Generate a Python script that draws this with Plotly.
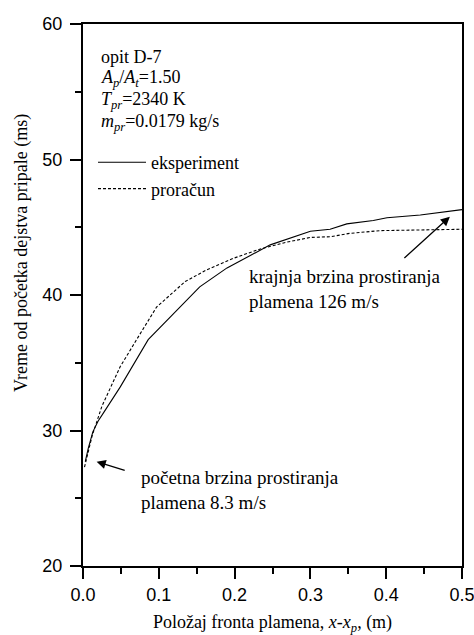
import plotly.graph_objects as go

# ---- data ----
x_eksperiment = [0.003, 0.007, 0.013, 0.020, 0.027, 0.049, 0.086, 0.154, 0.190, 0.247, 0.300, 0.326, 0.348, 0.383, 0.401, 0.445, 0.500]
y_eksperiment = [27.7, 28.7, 29.9, 30.7, 31.3, 33.2, 36.7, 40.6, 42.0, 43.7, 44.7, 44.85, 45.25, 45.5, 45.7, 45.9, 46.3]

x_proracun = [0.002, 0.012, 0.025, 0.049, 0.069, 0.097, 0.135, 0.163, 0.198, 0.234, 0.269, 0.300, 0.326, 0.352, 0.392, 0.500]
y_proracun = [27.3, 29.6, 31.8, 34.7, 36.55, 39.1, 41.0, 41.85, 42.7, 43.4, 43.9, 44.25, 44.3, 44.55, 44.75, 44.85]

x_ticks = [0.0, 0.1, 0.2, 0.3, 0.4, 0.5]
y_ticks = [20, 30, 40, 50, 60]

info_lines = [
    "opit D-7",
    "<i>A<sub>p</sub></i>/<i>A<sub>t</sub></i>=1.50",
    "<i>T<sub>pr</sub></i>=2340 K",
    "<i>m<sub>pr</sub></i>=0.0179 kg/s",
]

# arrow annotations: (tip x, tip y, tail x, tail y)
arrow_end = (0.484, 45.78, 0.422, 42.63)
arrow_start = (0.018, 27.7, 0.057, 27.03)

SERIF = "Liberation Serif"
SANS = "Liberation Sans"

fig = go.Figure()
fig.add_trace(go.Scatter(x=x_eksperiment, y=y_eksperiment, mode="lines", name="eksperiment",
                         line=dict(color="black", width=1.1)))
fig.add_trace(go.Scatter(x=x_proracun, y=y_proracun, mode="lines", name="proračun",
                         line=dict(color="black", width=1.1, dash="3px,2px")))

W, H = 474, 635
ml, mr, mt, mb = 83, 12, 24, 69
pw, ph = W - ml - mr, H - mt - mb

def px_to_paper_x(px):
    return (px - ml) / pw

def px_to_paper_y(py):
    return (H - mb - py) / ph

annotations = []
# info text block
info_y = [57, 78, 100, 122]
for txt, yy in zip(info_lines, info_y):
    annotations.append(dict(text=txt, xref="paper", yref="paper", x=px_to_paper_x(99), y=px_to_paper_y(yy),
                            xanchor="left", yanchor="middle", showarrow=False,
                            font=dict(family=SERIF, size=18, color="black")))

# arrows
for tipx, tipy, tailx, taily in (arrow_end, arrow_start):
    annotations.append(dict(x=tipx, y=tipy, ax=tailx, ay=taily, xref="x", yref="y", axref="x", ayref="y",
                            text="", showarrow=True, arrowhead=2, arrowsize=1.4, arrowwidth=1.3,
                            arrowcolor="black"))

annotations.append(dict(text="krajnja brzina prostiranja<br>plamena 126 m/s", x=0.216, y=40.42,
                        xref="x", yref="y", xanchor="left", yanchor="middle", align="left",
                        showarrow=False, font=dict(family=SERIF, size=19, color="black")))
annotations.append(dict(text="početna brzina prostiranja<br>plamena 8.3 m/s", x=0.074, y=25.6,
                        xref="x", yref="y", xanchor="left", yanchor="middle", align="left",
                        showarrow=False, font=dict(family=SERIF, size=19, color="black")))

# y axis title (placed as in the reference)
annotations.append(dict(text="Vreme od početka dejstva pripale (ms)", xref="paper", yref="paper",
                        x=px_to_paper_x(21), y=px_to_paper_y(253), textangle=-90,
                        xanchor="center", yanchor="middle", showarrow=False,
                        font=dict(family=SERIF, size=18, color="black")))

fig.update_layout(
    width=W, height=H,
    margin=dict(l=ml, r=mr, t=mt, b=mb, autoexpand=False),
    paper_bgcolor="white", plot_bgcolor="white",
    showlegend=True,
    legend=dict(x=px_to_paper_x(93), y=px_to_paper_y(144), xanchor="left", yanchor="top",
                bgcolor="rgba(0,0,0,0)", borderwidth=0, itemwidth=48,
                font=dict(family=SERIF, size=18, color="black"), tracegroupgap=0),
    annotations=annotations,
)

fig.update_xaxes(range=[0, 0.5], tickvals=x_ticks, ticktext=[f"{v:.1f}" for v in x_ticks],
                 ticks="outside", ticklen=11, tickwidth=2, tickcolor="black",
                 minor=dict(dtick=0.05, ticks="outside", ticklen=6, tickwidth=2, tickcolor="black", showgrid=False),
                 showline=True, linewidth=2, linecolor="black", mirror=True,
                 showgrid=False, zeroline=False, automargin=False, ticklabeloverflow="allow",
                 tickfont=dict(family=SANS, size=18, color="black"),
                 title=dict(text="Položaj fronta plamena, <i>x</i>-<i>x<sub>p</sub></i>, (m)",
                            font=dict(family=SERIF, size=18, color="black"), standoff=21))
fig.update_yaxes(range=[20, 60], tickvals=y_ticks,
                 ticks="outside", ticklen=11, tickwidth=2, tickcolor="black",
                 minor=dict(dtick=5, ticks="outside", ticklen=6, tickwidth=2, tickcolor="black", showgrid=False),
                 showline=True, linewidth=2, linecolor="black", mirror=True,
                 showgrid=False, zeroline=False, automargin=False, ticklabeloverflow="allow",
                 tickfont=dict(family=SANS, size=18, color="black"), ticklabelstandoff=4)

fig.write_html("out.html")
